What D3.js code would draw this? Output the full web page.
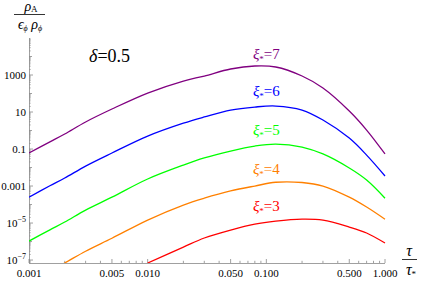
<!DOCTYPE html>
<html>
<head>
<meta charset="utf-8">
<script src="https://cdn.jsdelivr.net/npm/d3@7"></script>
<style>
  body { margin: 0; background: #fff; }
  text { font-family: "Liberation Serif"; }
</style>
</head>
<body>
<div id="chart"></div>
<script>
// tau / tau_* sample points
const tau = [0.001, 0.0015, 0.002, 0.003, 0.005, 0.01, 0.02, 0.03, 0.05, 0.08, 0.12, 0.2, 0.3, 0.5, 0.7, 1.0];

// rho_A / (eps_phi rho_phi), one list per xi_*
const xi7 = [0.061, 0.245, 0.65, 2.9, 14.5, 106, 474, 883, 2110, 3060, 2710, 883, 198, 11.3, 1.06, 0.054];
const xi6 = [2.5e-4, 1.03e-3, 2.7e-3, 0.012, 0.061, 0.50, 2.5, 5.4, 12.8, 18.6, 21, 12.8, 3.7, 0.39, 0.047, 3.5e-3];
const xi5 = [1.06e-6, 4.3e-6, 1.13e-5, 5.0e-5, 2.5e-4, 2.4e-3, 0.0136, 0.033, 0.078, 0.145, 0.186, 0.128, 0.054, 9.4e-3, 2.1e-3, 2.2e-4];
const xi4 = [null, 2.6e-8, 6.9e-8, 3.0e-7, 1.5e-6, 1.45e-5, 9.4e-5, 2.2e-4, 5.4e-4, 1.0e-3, 1.6e-3, 1.55e-3, 1.0e-3, 2.5e-4, 7.3e-5, 1.6e-5];
const xi3 = [null, null, null, null, null, 6.9e-8, 5.0e-7, 1.55e-6, 4.2e-6, 8.8e-6, 1.28e-5, 1.64e-5, 1.45e-5, 6.1e-6, 2.9e-6, 8.3e-7];

const seriesNames = ["7", "6", "5", "4", "3"];
const seriesValues = [xi7, xi6, xi5, xi4, xi3];
const seriesColors = ["#800080", "#0000ff", "#00ff00", "#ff8000", "#ff0000"];
// where each label sits, in data units (tau, value)
const labelTau = 0.1;
const labelValue = [7300, 73, 0.57, 4.5e-3, 4.5e-5];

const xTicks = [0.001, 0.005, 0.01, 0.05, 0.1, 0.5, 1];
const xTickLabels = ["0.001", "0.005", "0.010", "0.050", "0.100", "0.500", "1.000"];
const yTicks = [1e3, 10, 0.1, 1e-3, 1e-5, 1e-7];
const yTickLabels = ["1000", "10", "0.1", "0.001", "10^-5", "10^-7"];

const W = 421, H = 282;
const m = { left: 29, right: 385, top: 38, bottom: 263 };

const svg = d3.select("#chart").append("svg")
    .attr("width", W)
    .attr("height", H)
    .style("font-family", "Liberation Serif");

const x = d3.scaleLog().domain([0.001, 1]).range([m.left, m.right]);
const y = d3.scaleLog().domain([Math.pow(10, -7.16), 1e5]).range([m.bottom, m.top]);

const axisColor = "#888";

// minor ticks on x: 2..9 per decade
const xMinor = [];
[0.001, 0.01, 0.1].forEach(d => {
    for (let k = 2; k <= 9; k++) if (k !== 5) xMinor.push(d * k);
});
// y ticks: labelled odd decades, medium even decades, minor 2..9
const yMedium = [1e4, 100, 1, 0.01, 1e-4, 1e-6];
const yMinor = [];
for (let p = -8; p <= 4; p++) {
    for (let k = 2; k <= 9; k++) {
        const v = k * Math.pow(10, p);
        if (v > y.domain()[0] && v < 1e5) yMinor.push(v);
    }
}

const ax = svg.append("g").attr("stroke", axisColor).attr("stroke-width", 0.8);

// axis lines
ax.append("line").attr("x1", m.left).attr("x2", m.right).attr("y1", m.bottom + 0.5).attr("y2", m.bottom + 0.5);
ax.append("line").attr("x1", m.left + 0.5).attr("x2", m.left + 0.5).attr("y1", m.top).attr("y2", m.bottom);

// x ticks (pointing inward)
ax.selectAll(".xmaj").data(xTicks).enter().append("line")
    .attr("x1", d => x(d)).attr("x2", d => x(d))
    .attr("y1", m.bottom).attr("y2", m.bottom - 4);
ax.selectAll(".xmin").data(xMinor).enter().append("line")
    .attr("x1", d => x(d)).attr("x2", d => x(d))
    .attr("y1", m.bottom).attr("y2", m.bottom - 2.2);

// y ticks
ax.selectAll(".ymaj").data(yTicks).enter().append("line")
    .attr("x1", m.left).attr("x2", m.left + 4)
    .attr("y1", d => y(d)).attr("y2", d => y(d));
ax.selectAll(".ymed").data(yMedium).enter().append("line")
    .attr("x1", m.left).attr("x2", m.left + 3)
    .attr("y1", d => y(d)).attr("y2", d => y(d));
ax.selectAll(".ymin").data(yMinor).enter().append("line")
    .attr("x1", m.left).attr("x2", m.left + 1.8)
    .attr("y1", d => y(d)).attr("y2", d => y(d))
    .attr("stroke-width", 0.6);

// tick labels
svg.selectAll(".xl").data(xTicks).enter().append("text")
    .attr("x", d => x(d))
    .attr("y", m.bottom + 14)
    .attr("text-anchor", "middle")
    .attr("font-size", 11)
    .text((d, i) => xTickLabels[i]);

const yl = svg.selectAll(".yl").data(yTicks).enter().append("text")
    .attr("x", m.left - 3)
    .attr("y", d => y(d) + 4)
    .attr("text-anchor", "end")
    .attr("font-size", 11);
yl.each(function(d, i) {
    const t = d3.select(this);
    const lab = yTickLabels[i];
    if (lab.includes("^")) {
        const parts = lab.split("^");
        t.append("tspan").text(parts[0]);
        t.append("tspan").attr("dy", -5).attr("font-size", 8).text(parts[1].replace("-", "\u2212"));
    } else {
        t.text(lab);
    }
});

// curves
svg.append("clipPath").attr("id", "clip")
    .append("rect").attr("x", m.left).attr("y", m.top - 30)
    .attr("width", m.right - m.left + 1).attr("height", m.bottom - m.top + 30);

const line = d3.line()
    .defined(d => d[1] != null)
    .x(d => x(d[0]))
    .y(d => y(d[1]))
    .curve(d3.curveCatmullRom.alpha(0.5));

const plot = svg.append("g").attr("clip-path", "url(#clip)");
seriesValues.forEach((vals, i) => {
    plot.append("path")
        .datum(tau.map((t, j) => [t, vals[j]]))
        .attr("fill", "none")
        .attr("stroke", seriesColors[i])
        .attr("stroke-width", 1.3)
        .attr("d", line);
});

// series labels
seriesNames.forEach((n, i) => {
    const t = svg.append("text")
        .attr("x", x(labelTau))
        .attr("y", y(labelValue[i]))
        .attr("text-anchor", "middle")
        .attr("font-size", 15)
        .attr("fill", seriesColors[i]);
    t.append("tspan").attr("font-style", "italic").text("\u03BE");
    t.append("tspan").attr("dy", 3).attr("font-size", 9).text("*");
    t.append("tspan").attr("dy", -3).text("=" + n);
});

// delta annotation
const dt = svg.append("text")
    .attr("x", 89).attr("y", 62)
    .attr("font-size", 18);
dt.append("tspan").attr("font-style", "italic").text("\u03B4");
dt.append("tspan").text("=0.5");

// y-axis label: rho_A / (eps_phi rho_phi)
const num = svg.append("text").attr("x", 31).attr("y", 11).attr("text-anchor", "middle").attr("font-size", 14);
num.append("tspan").attr("font-style", "italic").text("\u03C1");
num.append("tspan").attr("dy", 1).attr("font-size", 9).text("A");
svg.append("line").attr("x1", 14).attr("x2", 45).attr("y1", 14.5).attr("y2", 14.5)
    .attr("stroke", "#000").attr("stroke-width", 0.8);
const den = svg.append("text").attr("x", 30).attr("y", 29).attr("text-anchor", "middle").attr("font-size", 14);
den.append("tspan").attr("font-style", "italic").text("\u03F5");
den.append("tspan").attr("dy", 2).attr("font-size", 8).attr("font-style", "italic").text("\u03D5");
den.append("tspan").attr("dy", -2).text(" ");
den.append("tspan").attr("font-style", "italic").text("\u03C1");
den.append("tspan").attr("dy", 2).attr("font-size", 8).attr("font-style", "italic").text("\u03D5");

// x-axis label: tau / tau_*
svg.append("text").attr("x", 409).attr("y", 256).attr("text-anchor", "middle")
    .attr("font-size", 16).attr("font-style", "italic").text("\u03C4");
svg.append("line").attr("x1", 402).attr("x2", 417).attr("y1", 259.5).attr("y2", 259.5)
    .attr("stroke", "#000").attr("stroke-width", 0.8);
const tb = svg.append("text").attr("x", 411).attr("y", 275).attr("text-anchor", "middle").attr("font-size", 16);
tb.append("tspan").attr("font-style", "italic").text("\u03C4");
tb.append("tspan").attr("dy", 2).attr("font-size", 9).text("*");
</script>
</body>
</html>
